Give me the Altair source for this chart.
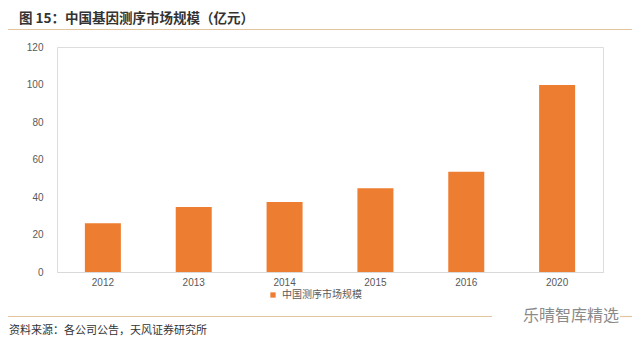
import altair as alt
import pandas as pd

years = ["2012", "2013", "2014", "2015", "2016", "2020"]
values = [26, 34.7, 37.4, 44.7, 53.5, 99.8]
series_name = "中国测序市场规模"
title_text = "图 15：中国基因测序市场规模（亿元）"
source_text = "资料来源：各公司公告，天风证券研究所"
watermark_text = "乐晴智库精选"

df = pd.DataFrame({"year": years, "value": values, "series": series_name})

CJK = "Noto Sans CJK SC"
NUM = "Liberation Sans"
ORANGE = "#ED7D31"
LINE = "#E2C49E"

W, H = 546, 225

bars = alt.Chart(df).mark_bar(size=36).encode(
    x=alt.X("year:N", sort=years, title=None,
            scale=alt.Scale(paddingInner=0.604, paddingOuter=0.307),
            axis=alt.Axis(labelAngle=0, labelFont=NUM, labelFontSize=10, labelColor="#595959",
                          ticks=False, domainColor="#D9D9D9", domainWidth=1, labelPadding=5)),
    y=alt.Y("value:Q", title=None,
            scale=alt.Scale(domain=[0, 120]),
            axis=alt.Axis(values=[0, 20, 40, 60, 80, 100, 120], grid=False, domain=False, ticks=False,
                          labelFont=NUM, labelFontSize=10, labelColor="#595959", labelPadding=14)),
    color=alt.Color("series:N", scale=alt.Scale(range=[ORANGE]),
                    legend=alt.Legend(orient="none", legendX=211, legendY=243, title=None,
                                      symbolType="square", symbolSize=28, labelFont=CJK,
                                      labelFontSize=10, labelColor="#595959", padding=0)),
)

def txt(s, x, y, size, color, weight="normal", font=CJK, align="left"):
    return alt.Chart(pd.DataFrame({"t": [s]})).mark_text(
        align=align, baseline="middle", fontSize=size, color=color, fontWeight=weight, font=font
    ).encode(text="t:N", x=alt.value(x), y=alt.value(y))

def hrule(x1, x2, y, color):
    return alt.Chart(pd.DataFrame({"a": [0]})).mark_rule(color=color, strokeWidth=1.2).encode(
        x=alt.value(x1), x2=alt.value(x2), y=alt.value(y))

title = txt(title_text, -38, -28.5, 13.5, "#333333", weight="bold")
top_line = hrule(-49, 583, -17.5, LINE)
bottom_line1 = hrule(-49, 435, 269.5, LINE)
bottom_line2 = hrule(563, 575, 269.5, LINE)
source = txt(source_text, -48, 284, 11, "#333333")
watermark = txt(watermark_text, 466, 269, 16, "#8A8A8A")

chart = alt.layer(bars, title, top_line, bottom_line1, bottom_line2, source, watermark).properties(
    width=W, height=H,
    autosize=alt.AutoSizeParams(type="none"),
    padding={"left": 49, "top": 39, "right": 29, "bottom": 72},
).configure_view(stroke=None).configure(background="white")

chart.save("out.html", embed_options={"renderer": "svg", "actions": False})
